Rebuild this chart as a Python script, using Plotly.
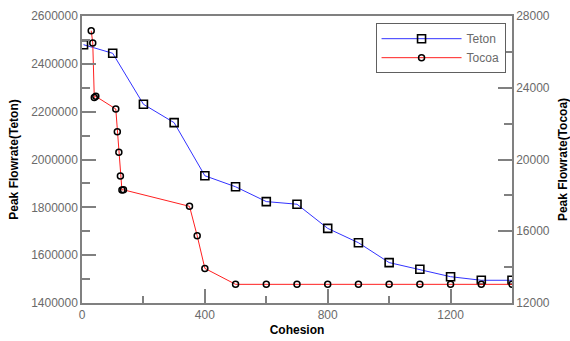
import plotly.graph_objects as go

# Teton series (left axis)
teton_x = [5, 100, 200, 300, 400, 500, 600, 700, 800, 900, 1000, 1100, 1200, 1300, 1400]
teton_y = [2480000, 2444000, 2231000, 2154000, 1932000, 1886000, 1824000, 1813000,
           1712000, 1652000, 1569000, 1541000, 1510000, 1495000, 1495000]

# Tocoa series (right axis)
tocoa_x = [30, 35, 40, 45, 110, 115, 120, 125, 130, 135, 350, 375, 400,
           500, 600, 700, 800, 900, 1000, 1100, 1200, 1300, 1400]
tocoa_y = [27180, 26500, 23450, 23520, 22815, 21550, 20400, 19080, 18300, 18310,
           17390, 15750, 13930, 13040, 13040, 13040, 13040, 13040, 13040, 13040,
           13040, 13040, 13040]

x_ticks = [0, 400, 800, 1200]
y1_ticks = [1400000, 1600000, 1800000, 2000000, 2200000, 2400000, 2600000]
y2_ticks = [12000, 16000, 20000, 24000, 28000]

FONT = "Liberation Sans, Arial, sans-serif"
GRAY = "#808080"
TXT = "#6a6a6a"

fig = go.Figure()
fig.add_trace(go.Scatter(
    x=teton_x, y=teton_y, name="Teton", mode="lines+markers",
    line=dict(color="#3333ff", width=1),
    marker=dict(symbol="square-open", size=8, color="black", line=dict(width=1.6, color="black")),
    yaxis="y",
))
fig.add_trace(go.Scatter(
    x=tocoa_x, y=tocoa_y, name="Tocoa", mode="lines+markers",
    line=dict(color="#ff2020", width=1),
    marker=dict(symbol="circle-open", size=6, color="black", line=dict(width=1.5, color="black")),
    yaxis="y2",
))

fig.update_layout(
    width=570, height=341,
    margin=dict(l=82, r=58, t=16, b=38),
    paper_bgcolor="white", plot_bgcolor="white",
    font=dict(family=FONT, size=12, color=TXT),
    xaxis=dict(
        range=[0, 1400], tickvals=x_ticks, ticktext=[str(v) for v in x_ticks],
        showgrid=False, zeroline=False, showline=True, linecolor=GRAY, linewidth=1.5,
        mirror=True, ticks="inside", ticklen=14, tickcolor=GRAY, tickwidth=1.5,
        minor=dict(dtick=200, tick0=0, ticks="inside", ticklen=7, tickcolor=GRAY, tickwidth=1.5),
        title=dict(text="<b>Cohesion</b>", font=dict(color="black", size=12), standoff=4),
        tickfont=dict(color=TXT, size=12), automargin=False,
    ),
    yaxis=dict(
        range=[1400000, 2600000], tickvals=y1_ticks, ticktext=[str(v) for v in y1_ticks],
        showgrid=False, zeroline=False, showline=True, linecolor=GRAY, linewidth=1.5,
        ticks="inside", ticklen=14, tickcolor=GRAY, tickwidth=1.5,
        minor=dict(dtick=100000, tick0=0, ticks="inside", ticklen=8, tickcolor=GRAY, tickwidth=1.5),
        title=dict(text="<b>Peak Flowrate(Teton)</b>", font=dict(color="black", size=12), standoff=10),
        tickfont=dict(color=TXT, size=12), automargin=False,
    ),
    yaxis2=dict(
        range=[12000, 28000], tickvals=y2_ticks, ticktext=[str(v) for v in y2_ticks],
        overlaying="y", side="right", anchor="x",
        showgrid=False, zeroline=False, showline=True, linecolor=GRAY, linewidth=1.5,
        ticks="inside", ticklen=14, tickcolor=GRAY, tickwidth=1.5,
        minor=dict(dtick=2000, tick0=0, ticks="inside", ticklen=8, tickcolor=GRAY, tickwidth=1.5),
        title=dict(text="<b>Peak Flowrate(Tocoa)</b>", font=dict(color="black", size=12), standoff=13),
        tickfont=dict(color=TXT, size=12), automargin=False,
    ),
    legend=dict(
        x=0.985, xanchor="right", y=0.975, yanchor="top",
        bgcolor="white", bordercolor="#606060", borderwidth=1,
        font=dict(family=FONT, size=12, color=TXT),
        itemwidth=80, tracegroupgap=0,
    ),
    showlegend=True,
)

fig.write_html("out.html", config={"displayModeBar": False},
               post_script="document.body.style.margin='0';document.body.style.padding='0';")
